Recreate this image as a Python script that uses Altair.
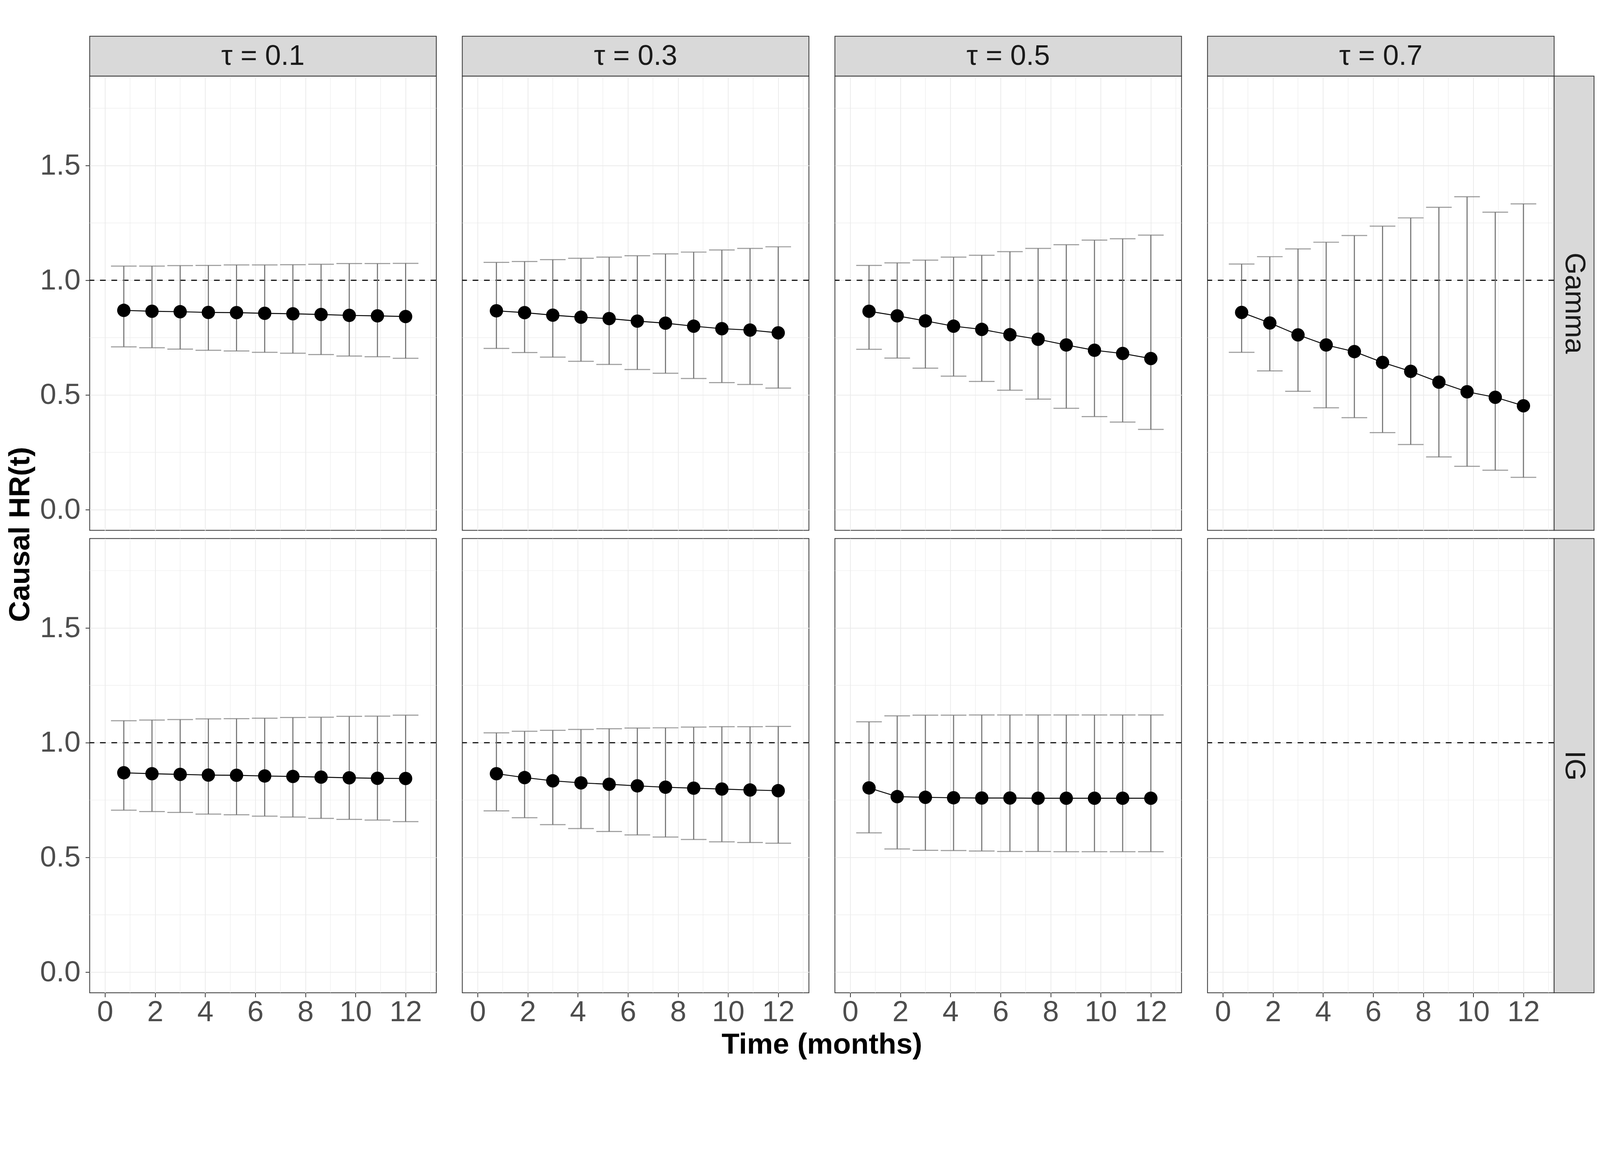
import altair as alt
import pandas as pd

# ---------------- data ----------------
times = [0.75, 1.875, 3.0, 4.125, 5.25, 6.375, 7.5, 8.625, 9.75, 10.875, 12.0]
taus = ["0.1", "0.3", "0.5", "0.7"]
dists = ["Gamma", "IG"]

gamma_01_est = [0.869, 0.865, 0.863, 0.860, 0.859, 0.856, 0.854, 0.851, 0.847, 0.845, 0.842]
gamma_01_lo = [0.710, 0.706, 0.700, 0.695, 0.692, 0.686, 0.682, 0.676, 0.670, 0.667, 0.660]
gamma_01_hi = [1.062, 1.062, 1.064, 1.065, 1.067, 1.067, 1.068, 1.070, 1.073, 1.073, 1.074]

gamma_03_est = [0.867, 0.859, 0.848, 0.839, 0.833, 0.822, 0.813, 0.800, 0.789, 0.783, 0.771]
gamma_03_lo = [0.703, 0.685, 0.665, 0.647, 0.633, 0.611, 0.595, 0.572, 0.554, 0.546, 0.530]
gamma_03_hi = [1.078, 1.082, 1.090, 1.096, 1.101, 1.107, 1.115, 1.123, 1.132, 1.139, 1.146]

gamma_05_est = [0.865, 0.845, 0.823, 0.800, 0.786, 0.763, 0.743, 0.718, 0.695, 0.681, 0.659]
gamma_05_lo = [0.699, 0.661, 0.617, 0.582, 0.559, 0.521, 0.482, 0.442, 0.406, 0.382, 0.350]
gamma_05_hi = [1.065, 1.076, 1.088, 1.101, 1.109, 1.125, 1.139, 1.155, 1.175, 1.181, 1.197]

gamma_07_est = [0.860, 0.814, 0.762, 0.718, 0.689, 0.642, 0.603, 0.556, 0.514, 0.490, 0.453]
gamma_07_lo = [0.686, 0.605, 0.516, 0.444, 0.401, 0.336, 0.284, 0.230, 0.189, 0.172, 0.141]
gamma_07_hi = [1.071, 1.103, 1.137, 1.166, 1.195, 1.236, 1.272, 1.318, 1.364, 1.297, 1.333]

ig_01_est = [0.869, 0.865, 0.862, 0.859, 0.858, 0.855, 0.853, 0.850, 0.847, 0.845, 0.844]
ig_01_lo = [0.706, 0.700, 0.696, 0.689, 0.686, 0.680, 0.676, 0.670, 0.666, 0.663, 0.656]
ig_01_hi = [1.096, 1.099, 1.101, 1.104, 1.105, 1.107, 1.110, 1.111, 1.115, 1.116, 1.120]

ig_03_est = [0.865, 0.848, 0.834, 0.825, 0.819, 0.812, 0.806, 0.802, 0.798, 0.794, 0.791]
ig_03_lo = [0.703, 0.673, 0.643, 0.626, 0.613, 0.598, 0.589, 0.578, 0.568, 0.565, 0.562]
ig_03_hi = [1.043, 1.050, 1.054, 1.058, 1.061, 1.064, 1.065, 1.068, 1.070, 1.070, 1.071]

ig_05_est = [0.803, 0.765, 0.762, 0.760, 0.759, 0.759, 0.758, 0.758, 0.758, 0.758, 0.758]
ig_05_lo = [0.607, 0.537, 0.531, 0.530, 0.528, 0.526, 0.526, 0.525, 0.525, 0.525, 0.525]
ig_05_hi = [1.091, 1.117, 1.120, 1.120, 1.121, 1.121, 1.121, 1.121, 1.121, 1.121, 1.121]

x_major = [0, 2, 4, 6, 8, 10, 12]
x_minor = [1, 3, 5, 7, 9, 11, 13]
y_major = [0.0, 0.5, 1.0, 1.5]
y_minor = [0.25, 0.75, 1.25, 1.75]
reference_hr = 1.0
x_title = "Time (months)"
y_title = "Causal HR(t)"

series = {
    ("Gamma", "0.1"): (gamma_01_est, gamma_01_lo, gamma_01_hi),
    ("Gamma", "0.3"): (gamma_03_est, gamma_03_lo, gamma_03_hi),
    ("Gamma", "0.5"): (gamma_05_est, gamma_05_lo, gamma_05_hi),
    ("Gamma", "0.7"): (gamma_07_est, gamma_07_lo, gamma_07_hi),
    ("IG", "0.1"): (ig_01_est, ig_01_lo, ig_01_hi),
    ("IG", "0.3"): (ig_03_est, ig_03_lo, ig_03_hi),
    ("IG", "0.5"): (ig_05_est, ig_05_lo, ig_05_hi),
}

rows = []
for (d, tau), (e, l, h) in series.items():
    for t, ei, li, hi in zip(times, e, l, h):
        rows.append(dict(kind="est", dist=d, tau=tau, t=t, est=ei, lo=li, hi=hi))
for d in dists:
    for tau in taus:
        rows.append(dict(kind="ref", dist=d, tau=tau, ref=reference_hr))
        for gx in x_minor:
            rows.append(dict(kind="gx", dist=d, tau=tau, gx=gx))
        for gy in y_minor:
            rows.append(dict(kind="gy", dist=d, tau=tau, gy=gy))
for tau in taus:
    rows.append(dict(kind="stop", dist=dists[0], tau=tau, label=f"τ = {tau}"))
for d in dists:
    rows.append(dict(kind="sright", dist=d, tau=taus[-1], label=d))
# axis titles: drawn once (left column / bottom row) so they are shared
rows.append(dict(kind="ytitle", dist=dists[0], tau=taus[0], label=y_title))
rows.append(dict(kind="xtitle", dist=dists[1], tau=taus[1], label=x_title))
df = pd.DataFrame(rows)

# ---------------- chart ----------------
W, H = 973, 1275
ROWGAP, COLGAP = 23, 73
STRIP = 112
FONT = "Liberation Sans"
GREY_BAR = "#737373"

xscale = alt.Scale(domain=[-0.612, 13.225], nice=False, zero=False)
yscale = alt.Scale(domain=[-0.09, 1.89], nice=False, zero=False)
xaxis = alt.Axis(values=x_major, format="d", title=None, labelPadding=2)
yaxis = alt.Axis(values=y_major, format=".1f", title=None, labelPadding=14)


def X(f):
    return alt.X(f"{f}:Q", scale=xscale, axis=xaxis, title=None)


def Y(f):
    return alt.Y(f"{f}:Q", scale=yscale, axis=yaxis, title=None)


base = alt.Chart()

grid_x = base.mark_rule(color="#EBEBEB", strokeWidth=1.3).encode(
    x=X("gx")).transform_filter(alt.datum.kind == "gx")
grid_y = base.mark_rule(color="#EBEBEB", strokeWidth=1.3).encode(
    y=Y("gy")).transform_filter(alt.datum.kind == "gy")
ref = base.mark_rule(color="black", strokeWidth=3, strokeDash=[16, 16]).encode(
    y=Y("ref")).transform_filter(alt.datum.kind == "ref")

est = base.transform_filter(alt.datum.kind == "est")
bars = est.mark_rule(color=GREY_BAR, strokeWidth=3).encode(
    x=X("t"), y=Y("lo"), y2="hi:Q")
cap_lo = est.mark_tick(color=GREY_BAR, thickness=3, size=72, orient="horizontal").encode(
    x=X("t"), y=Y("lo"))
cap_hi = est.mark_tick(color=GREY_BAR, thickness=3, size=72, orient="horizontal").encode(
    x=X("t"), y=Y("hi"))
line = est.mark_line(color="black", strokeWidth=2.6).encode(x=X("t"), y=Y("est"))
pts = est.mark_circle(color="black", opacity=1, size=1400).encode(x=X("t"), y=Y("est"))

stop = base.transform_filter(alt.datum.kind == "stop")
strip_top = stop.mark_rect(fill="#D9D9D9", stroke="#333333", strokeWidth=2.2).encode(
    x=alt.value(0), x2=alt.value(W), y=alt.value(-STRIP), y2=alt.value(0))
strip_top_txt = stop.mark_text(fontSize=80, color="#1A1A1A", font=FONT).encode(
    x=alt.value(W / 2), y=alt.value(-STRIP / 2), text="label:N")

sright = base.transform_filter(alt.datum.kind == "sright")
strip_right = sright.mark_rect(fill="#D9D9D9", stroke="#333333", strokeWidth=2.2).encode(
    x=alt.value(W), x2=alt.value(W + STRIP), y=alt.value(0), y2=alt.value(H))
strip_right_txt = sright.mark_text(fontSize=80, color="#1A1A1A", font=FONT, angle=90).encode(
    x=alt.value(W + STRIP / 2), y=alt.value(H / 2), text="label:N")

ytitle = base.transform_filter(alt.datum.kind == "ytitle").mark_text(
    fontSize=82, fontWeight="bold", color="black", font=FONT, angle=270).encode(
    x=alt.value(-194), y=alt.value(H + ROWGAP / 2), text="label:N")
xtitle = base.transform_filter(alt.datum.kind == "xtitle").mark_text(
    fontSize=82, fontWeight="bold", color="black", font=FONT).encode(
    x=alt.value(W + COLGAP / 2), y=alt.value(H + 146), text="label:N")

layered = alt.layer(
    grid_x, grid_y, ref, bars, cap_lo, cap_hi, line, pts,
    strip_top, strip_top_txt, strip_right, strip_right_txt, ytitle, xtitle,
    data=df,
).properties(width=W, height=H)

chart = layered.facet(
    row=alt.Row("dist:N", header=None),
    column=alt.Column("tau:N", header=None),
    spacing={"row": ROWGAP, "column": COLGAP},
    bounds="flush",
).properties(
    padding={"left": 6, "top": -47, "right": 5, "bottom": 5},
    background="white",
).configure_view(
    stroke="#333333", strokeWidth=2.2
).configure_axis(
    domain=False,
    grid=True,
    gridColor="#EBEBEB",
    gridWidth=2.2,
    ticks=True,
    tickColor="#333333",
    tickWidth=2.2,
    tickSize=12,
    labelFont=FONT,
    labelFontSize=82,
    labelColor="#4D4D4D",
).configure_text(font=FONT)

chart.save("out.html", embed_options={"renderer": "svg", "actions": False})
